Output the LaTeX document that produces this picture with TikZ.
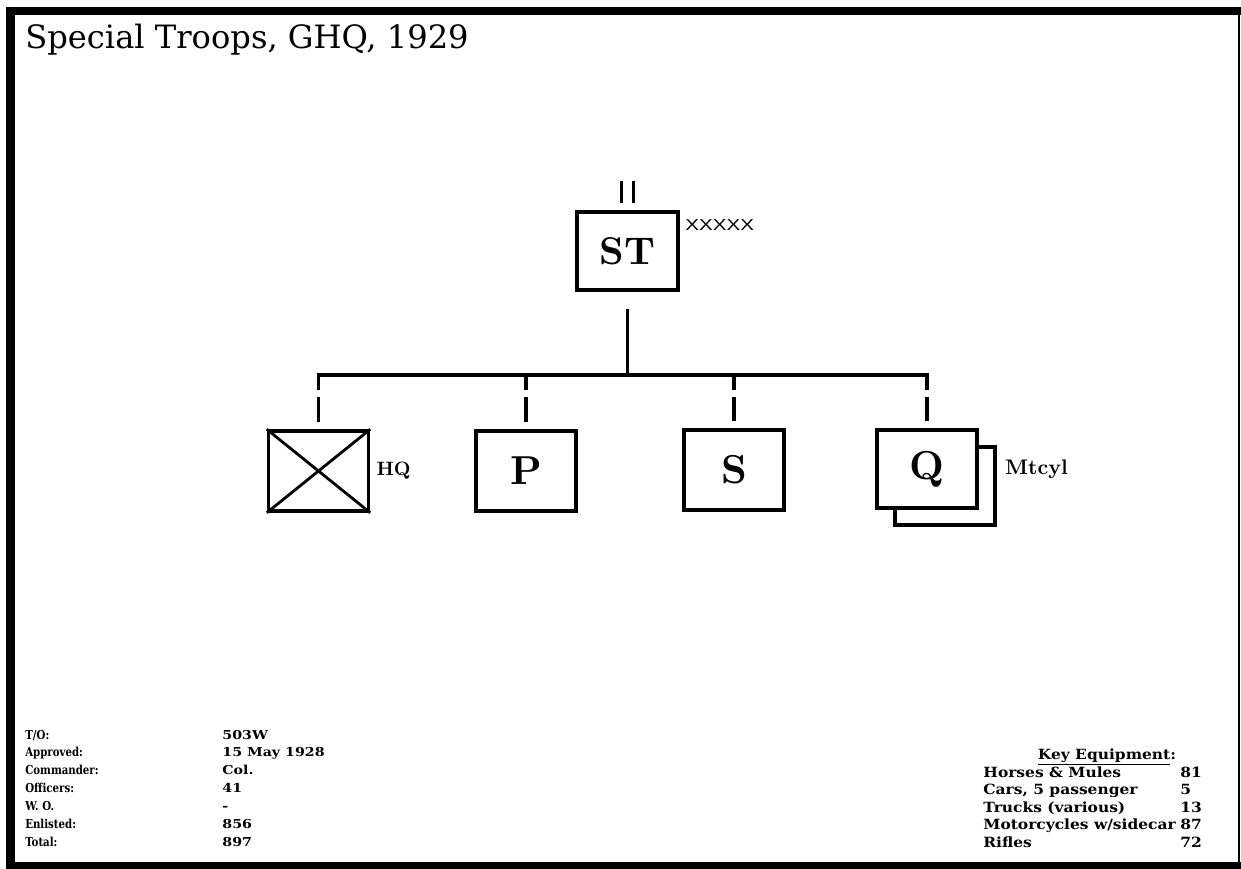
\documentclass[tikz,border=0pt]{standalone}
\usepackage{fontspec}
\newfontfamily\slabfont{DejaVu Serif}
\newfontfamily\xfont{Liberation Sans}
\newfontfamily\unitfont{lmroman10-bold}[Extension=.otf]
\usetikzlibrary{calc}

\begin{document}
\begin{tikzpicture}[
    x=0.02cm,y=-0.02cm,
    unit/.style={draw=black,line width=2pt,fill=white,minimum width=2cm,minimum height=1.6cm,inner sep=0pt,
      font=\unitfont\fontsize{23}{23}\selectfont},
    e/.style={line width=2pt},
    drop/.style={line width=2pt,dash pattern=on 8.5pt off 4pt on 20pt,shorten >=4pt},
    lab/.style={font=\unitfont\fontsize{11}{11}\selectfont,inner sep=0pt,anchor=west},
    info/.style={font=\slabfont\bfseries\fontsize{7}{7}\selectfont,inner sep=0pt,anchor=base west,xscale=.83},
    vinfo/.style={info,xscale=1.39},
    kinfo/.style={font=\slabfont\bfseries\fontsize{8}{8}\selectfont,inner sep=0pt,anchor=base west,xscale=1.1}
  ]
  \fill[white] (0,0) rectangle (1241,869);
  \useasboundingbox (0,0) rectangle (1241,869);
  % frame
  \fill (6,7) rectangle (15,869);
  \fill (6,7) rectangle (1241,15);
  \fill (6,862) rectangle (1241,869);
  \draw[line width=.8pt] (1239,15) -- (1239,862);
  \node[font=\slabfont\fontsize{18.3}{18.3}\selectfont,anchor=base west,inner sep=0pt] (title) at (25,48) {Special Troops, GHQ, 1929};

  % units
  \node[unit,minimum width=2.02cm,minimum height=1.56cm,font=\unitfont\fontsize{22}{22}\selectfont] (st) at (627.5,251) {ST};
  \draw[line width=1.5pt] ($(st.north)+(-6,-7)$) -- ++(0,-22) ($(st.north)+(6,-7)$) -- ++(0,-22);
  \node[font=\xfont\fontsize{9}{9}\selectfont,anchor=west,inner sep=0pt,xscale=1.3] (stsize) at (685,225) {XXXXX};
  \node[unit] (hq) at (318.5,471) {};
  \draw[line width=1.6pt] (hq.north west) -- (hq.south east) (hq.north east) -- (hq.south west);
  \node[unit] (p) at (526,471) {P};
  \node[unit] (s) at (734,470) {S};
  \node[unit,minimum height=1.56cm] (qb) at (945,486) {};
  \node[unit,minimum height=1.56cm] (q) at (927,469) {Q};
  \node[lab] (hqlab) at ($(hq.east)+(6,0)$) {HQ};
  \node[lab,font=\unitfont\fontsize{12}{12}\selectfont] (qlab) at ($(q.east)+(26,0)$) {Mtcyl};

  % connectors
  \coordinate (bus) at (0,375);
  \draw[e,shorten <=10pt] (st.south) -- (st.south |- bus);
  \draw[e,line cap=rect] (hq.north |- bus) -- (q.north |- bus);
  \foreach \n in {hq,p,s,q} {\draw[drop] (\n.north |- bus) -- (\n.north);}

  % data
  \foreach \t/\v [count=\i] in {{T/O:}/503W,Approved:/15 May 1928,Commander:/Col.,Officers:/41,W. O./-,Enlisted:/856,Total:/897} {
    \node[info] (l\i) at (25,739+17.9*\i-17.9) {\t};
    \node[vinfo] (v\i) at (222,739+17.9*\i-17.9) {\v};
  }
  \node[kinfo,anchor=base] (keq) at (1107,759) {\underline{Key Equipment}:};
  \foreach \t/\v [count=\i] in {Horses \& Mules/81,{Cars, 5 passenger}/5,Trucks (various)/13,{Motorcycles w/sidecar}/87,Rifles/72} {
    \node[kinfo] (k\i) at (983,777+17.6*\i-17.6) {\t};
    \node[kinfo] (n\i) at (1180,777+17.6*\i-17.6) {\v};
  }
\end{tikzpicture}
\end{document}
